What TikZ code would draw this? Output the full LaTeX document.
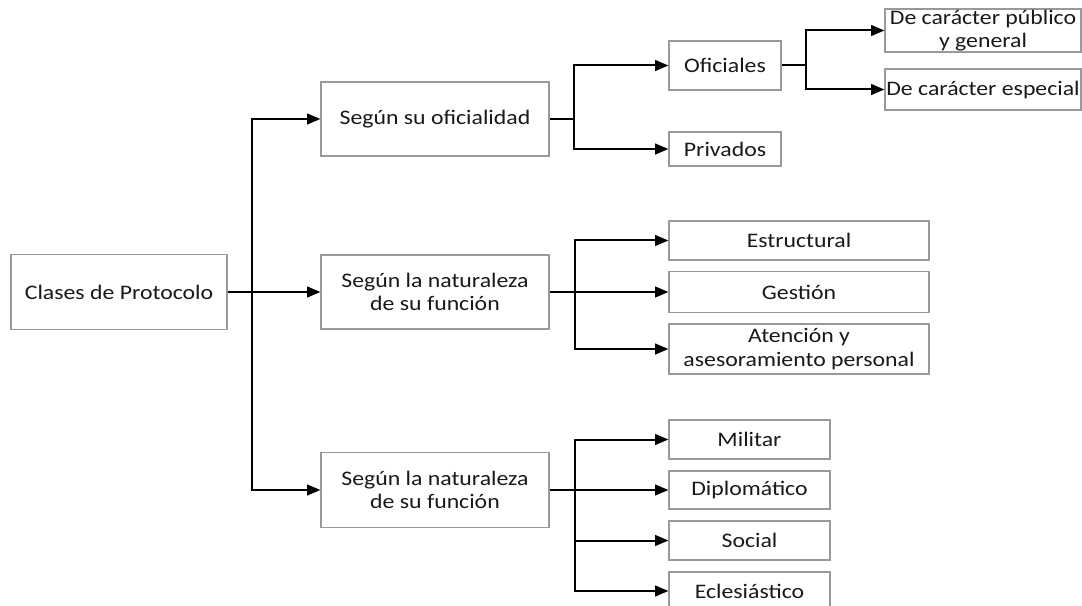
\documentclass[tikz,border=0pt]{standalone}
\usepackage{fontspec}
\setmainfont{Carlito}[FakeStretch=1.15]
\usetikzlibrary{arrows.meta}
\begin{document}
\begin{tikzpicture}[x=0.75pt,y=-0.75pt,
  box/.style={draw=black!40,line width=0.8pt,fill=white,inner sep=0pt,align=center,
    text=black!90,font=\fontsize{15.5}{17.5}\selectfont},
  conn/.style={line width=1.5pt,black},
  arr/.style={conn,-{Triangle[length=10pt,width=8pt]}}]
\useasboundingbox (0,0) rectangle (1082,606);
% level 0 and 1
\node[box,minimum width=162pt,minimum height=56.25pt] (root) at (119,292) {Clases de Protocolo};
\node[box,minimum width=171pt,minimum height=55.5pt] (b1) at (435,119) {Según su oficialidad};
\node[box,minimum width=171pt,minimum height=55.5pt] (b2) at (435,292) {Según la naturaleza\\de su función};
\node[box,minimum width=171pt,minimum height=56.25pt] (b3) at (435,490) {Según la naturaleza\\de su función};
% branch 1
\node[box,minimum width=84pt,minimum height=36.75pt] (of) at (725,65.5) {Oficiales};
\node[box,minimum width=84pt,minimum height=25.5pt] (pr) at (725,149) {Privados};
\node[box,minimum width=147pt,minimum height=32.25pt] (pub) at (983,30.5) {De carácter público\\y general};
\node[box,minimum width=147pt,minimum height=30.75pt] (esp) at (983,89.5) {De carácter especial};
% branch 2
\node[box,minimum width=195pt,minimum height=29.25pt] (es) at (799,240.5) {Estructural};
\node[box,minimum width=195pt,minimum height=30.75pt] (ge) at (799,292) {Gestión};
\node[box,minimum width=195pt,minimum height=37.5pt] (at) at (799,349) {Atención y\\asesoramiento personal};
% branch 3
\node[box,minimum width=120.75pt,minimum height=29.25pt] (mi) at (749.5,439.5) {Militar};
\node[box,minimum width=120.75pt,minimum height=28.5pt] (di) at (749.5,490) {Diplomático};
\node[box,minimum width=120.75pt,minimum height=29.25pt] (so) at (749.5,540.5) {Social};
\node[box,minimum width=120.75pt,minimum height=28.5pt] (ec) at (749.5,591) {Eclesiástico};
% junctions
\coordinate (j0) at (252,292);
\coordinate (j1) at (574,119);
\coordinate (j1b) at (806,65.5);
\coordinate (j2) at (575,292);
\coordinate (j3) at (575,490);
% connectors
\draw[arr] (root.east) -- (b2.west);
\draw[arr] (j0) |- (b1.west);
\draw[arr] (j0) |- (b3.west);
\draw[conn] (b1.east) -- (j1);
\draw[arr] (j1) |- (of.west);
\draw[arr] (j1) |- (pr.west);
\draw[conn] (of.east) -- (j1b);
\draw[arr] (j1b) |- (pub.west);
\draw[arr] (j1b) |- (esp.west);
\draw[arr] (b2.east) -- (ge.west);
\draw[arr] (j2) |- (es.west);
\draw[arr] (j2) |- (at.west);
\draw[arr] (b3.east) -- (di.west);
\draw[arr] (j3) |- (mi.west);
\draw[arr] (j3) |- (so.west);
\draw[arr] (j3) |- (ec.west);
\end{tikzpicture}
\end{document}
